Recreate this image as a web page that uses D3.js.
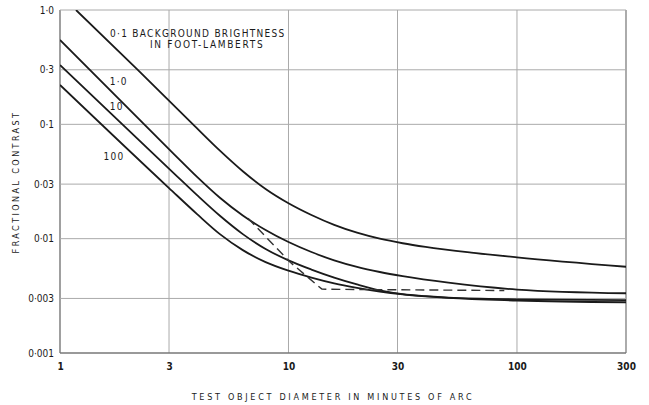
<!DOCTYPE html>
<html>
<head>
<meta charset="utf-8">
<script src="https://cdn.jsdelivr.net/npm/d3@7"></script>
<style>
  html, body { margin: 0; padding: 0; background: #fff; }
  svg { display: block; }
  text { font-family: "DejaVu Sans Condensed", "DejaVu Sans", sans-serif; fill: #1a1a1a; }
</style>
</head>
<body>
<svg id="chart" width="649" height="405"></svg>
<script>
// ---- data ----
const xTicks = [1, 3, 10, 30, 100, 300];
const xTickLabels = ["1", "3", "10", "30", "100", "300"];
const yTicks = [0.001, 0.003, 0.01, 0.03, 0.1, 0.3, 1.0];
const yTickLabels = ["0·001", "0·003", "0·01", "0·03", "0·1", "0·3", "1·0"];

const seriesNames = ["0·1", "1·0", "10", "100"];

// background brightness 0·1 ft-L
const curve01X = [1.175, 2.19, 3.82, 5.01, 6.31, 7.94, 10, 12.6, 15.85, 19.95, 25.1, 31.6, 39.8, 63.1, 100, 300];
const curve01Y = [1.0, 0.3, 0.1, 0.0589, 0.0389, 0.0272, 0.0204, 0.0161, 0.0132, 0.01127, 0.00999, 0.00912, 0.00847, 0.00755, 0.00687, 0.00568];

// 1·0 ft-L
const curve1X = [1, 3.16, 3.98, 5.01, 6.31, 7.94, 10, 12.6, 15.85, 19.95, 25.1, 31.6, 50.1, 100, 300];
const curve1Y = [0.547, 0.0547, 0.0347, 0.0228, 0.01596, 0.0119, 0.00934, 0.00764, 0.00646, 0.00566, 0.00511, 0.0047, 0.00412, 0.00359, 0.00333];

// 10 ft-L
const curve10X = [1, 3.16, 3.98, 5.01, 6.31, 7.94, 10, 12.6, 15.85, 19.95, 25.1, 31.6, 39.8, 50.1, 100, 300];
const curve10Y = [0.33, 0.0371, 0.024, 0.01585, 0.01096, 0.00813, 0.00646, 0.00537, 0.00457, 0.00398, 0.00353, 0.00327, 0.00314, 0.00305, 0.00295, 0.0029];

// 100 ft-L
const curve100X = [1, 3, 3.98, 5.01, 6.31, 7.94, 10, 12.6, 15.85, 19.95, 25.1, 31.6, 39.8, 50.1, 100, 300];
const curve100Y = [0.221, 0.0277, 0.0164, 0.01096, 0.00794, 0.00624, 0.00525, 0.00457, 0.00407, 0.00372, 0.00345, 0.00326, 0.00313, 0.00303, 0.00288, 0.00278];

// dashed approximation
const dashedX = [6.65, 10.15, 14, 17, 88];
const dashedY = [0.0151, 0.00624, 0.00362, 0.0036, 0.00352];

// ---- layout ----
const svg = d3.select("#chart");
const mLeft = 60, mRight = 626, mTop = 10, mBottom = 353;

const x = d3.scaleLog().domain([1, 300]).range([mLeft, mRight]);
const y = d3.scaleLog().domain([0.001, 1.0]).range([mBottom, mTop]);

// grid
const g = svg.append("g");
g.selectAll("line.vg").data(xTicks).enter().append("line")
  .attr("x1", d => x(d)).attr("x2", d => x(d))
  .attr("y1", mTop).attr("y2", mBottom)
  .attr("stroke", d => (d === 1 ? "#777" : d === 300 ? "#888" : "#aaa"))
  .attr("stroke-width", d => (d === 1 || d === 300 ? 1.4 : 1));
g.selectAll("line.hg").data(yTicks).enter().append("line")
  .attr("x1", mLeft).attr("x2", mRight)
  .attr("y1", d => y(d)).attr("y2", d => y(d))
  .attr("stroke", d => (d === 0.001 ? "#777" : "#aaa"))
  .attr("stroke-width", d => (d === 0.001 ? 1.4 : 1));

// axes labels via d3 axes (lines hidden)
const xAxis = d3.axisBottom(x).tickValues(xTicks)
  .tickFormat((d, i) => xTickLabels[i]).tickSize(0).tickPadding(10);
const xa = svg.append("g").attr("transform", `translate(0,${mBottom})`).call(xAxis);
xa.select(".domain").remove();
xa.selectAll("text").attr("font-size", 10).attr("font-weight", "bold")
  .style("font-family", "'DejaVu Sans Condensed', 'DejaVu Sans', sans-serif").attr("fill", "#1a1a1a");

const yAxis = d3.axisLeft(y).tickValues(yTicks)
  .tickFormat((d, i) => yTickLabels[i]).tickSize(0).tickPadding(6);
const ya = svg.append("g").attr("transform", `translate(${mLeft},0)`).call(yAxis);
ya.select(".domain").remove();
ya.selectAll("text").attr("font-size", 10)
  .style("font-family", "'DejaVu Sans Condensed', 'DejaVu Sans', sans-serif").attr("fill", "#1a1a1a");

// clip
svg.append("clipPath").attr("id", "clip").append("rect")
  .attr("x", mLeft).attr("y", mTop).attr("width", mRight - mLeft).attr("height", mBottom - mTop);

const line = d3.line().x(d => x(d[0])).y(d => y(d[1])).curve(d3.curveMonotoneX);
const zip = (a, b) => a.map((v, i) => [v, b[i]]);

const curves = [zip(curve01X, curve01Y), zip(curve1X, curve1Y), zip(curve10X, curve10Y), zip(curve100X, curve100Y)];
const plot = svg.append("g").attr("clip-path", "url(#clip)");
plot.selectAll("path.c").data(curves).enter().append("path")
  .attr("d", line).attr("fill", "none").attr("stroke", "#1a1a1a").attr("stroke-width", 1.8);

plot.append("path").datum(zip(dashedX, dashedY))
  .attr("d", d3.line().x(d => x(d[0])).y(d => y(d[1])))
  .attr("fill", "none").attr("stroke", "#333").attr("stroke-width", 1.4)
  .attr("stroke-dasharray", "9,5");

// series labels
const lab = svg.append("g").attr("font-size", 10).attr("letter-spacing", 1.3);
lab.append("text").attr("x", 110).attr("y", 37).text(seriesNames[0] + "  BACKGROUND BRIGHTNESS");
lab.append("text").attr("x", 150).attr("y", 48).attr("letter-spacing", 1.7).text("IN FOOT-LAMBERTS");
lab.append("text").attr("x", x(1.65)).attr("y", y(0.239)).attr("dy", "0.35em").text(seriesNames[1]);
lab.append("text").attr("x", x(1.65)).attr("y", y(0.142)).attr("dy", "0.35em").text(seriesNames[2]);
lab.append("text").attr("x", x(1.55)).attr("y", y(0.0528)).attr("dy", "0.35em").text(seriesNames[3]);

// axis titles
svg.append("text").attr("x", 333).attr("y", 400).attr("text-anchor", "middle")
  .attr("font-size", 9).attr("letter-spacing", 2.7)
  .text("TEST  OBJECT  DIAMETER  IN  MINUTES  OF  ARC");
svg.append("text").attr("transform", "translate(19,182) rotate(-90)")
  .attr("text-anchor", "middle").attr("font-size", 9).attr("letter-spacing", 2.4)
  .text("FRACTIONAL  CONTRAST");
</script>
</body>
</html>
